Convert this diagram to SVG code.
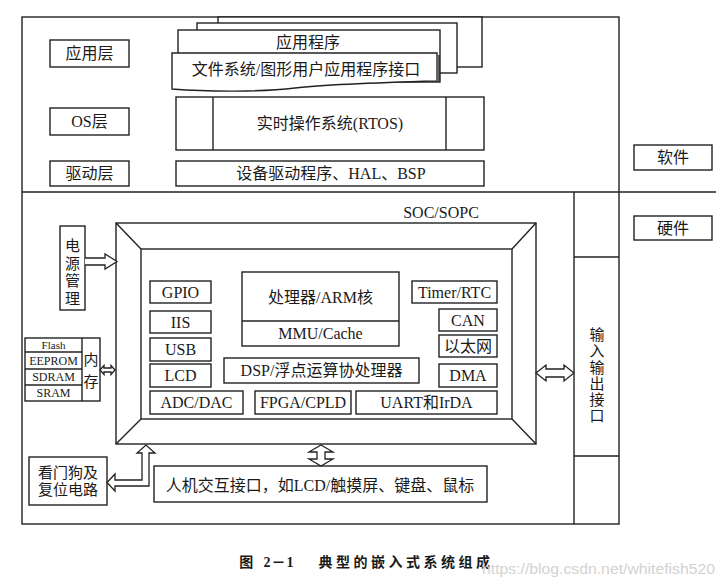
<svg xmlns="http://www.w3.org/2000/svg" width="725" height="587" viewBox="0 0 725 587">
<style>
.b{fill:#fff;stroke:#222;stroke-width:1.4}
.l{fill:none;stroke:#222;stroke-width:1.4}
.a{fill:#fff;stroke:#222;stroke-width:1.3;stroke-linejoin:miter}
text{font-family:"Liberation Serif","Noto Sans CJK SC",serif;fill:#1a1a1a;text-anchor:middle;dominant-baseline:central;font-size:16px}
.s{font-size:15px}
.m{font-size:12px}
.cap{font-weight:bold;font-size:14px;letter-spacing:3.5px}
.wm{font-family:"Liberation Sans",sans-serif;fill:#d2d2d2;font-size:15px;text-anchor:start}
</style>
<rect width="725" height="587" fill="#fff"/>
<g id="frame">
<rect class="l" x="22" y="17" width="597" height="507"/>
<line class="l" x1="22" y1="192" x2="716" y2="192"/>
</g>
<g id="layer-app"><rect class="b" x="50" y="40" width="79" height="27"/><text x="89.5" y="53.5">应用层</text></g>
<g id="layer-os"><rect class="b" x="50" y="108" width="79" height="27"/><text x="89.5" y="121.5">OS层</text></g>
<g id="layer-drv"><rect class="b" x="50" y="161" width="79" height="25"/><text x="89.5" y="173.5">驱动层</text></g>
<g id="app-stack">
<rect class="b" x="218" y="17" width="264" height="50"/>
<rect class="b" x="197" y="23" width="260" height="50"/>
<rect class="b" x="178" y="30" width="262" height="52"/>
<text x="308" y="42">应用程序</text>
<path class="b" d="M172,53 H437 V81 C400,82 330,84 295,88 C262,92 210,92 172,89 Z"/>
<line class="l" x1="439" y1="55" x2="439" y2="82"/>
<text x="306" y="69">文件系统/图形用户应用程序接口</text>
</g>
<g id="rtos">
<rect class="b" x="176" y="97" width="308" height="53"/>
<line class="l" x1="213" y1="97" x2="213" y2="150"/>
<line class="l" x1="446" y1="97" x2="446" y2="150"/>
<text x="330" y="123.5">实时操作系统(RTOS)</text>
</g>
<g id="driver"><rect class="b" x="176" y="161" width="308" height="25"/><text x="331" y="173.5">设备驱动程序、HAL、BSP</text></g>
<g id="software"><rect class="b" x="634" y="145" width="78" height="25"/><text x="673" y="157.5">软件</text></g>
<g id="hardware"><rect class="b" x="634" y="216" width="78" height="24"/><text x="673" y="228">硬件</text></g>
<g id="io">
<line class="l" x1="574" y1="192" x2="574" y2="524"/>
<line class="l" x1="574" y1="257" x2="619" y2="257"/>
<line class="l" x1="574" y1="456" x2="619" y2="456"/>
<text class="s" x="597" y="335">输</text><text class="s" x="597" y="351">入</text><text class="s" x="597" y="367.5">输</text><text class="s" x="597" y="384">出</text><text class="s" x="597" y="400">接</text><text class="s" x="597" y="416">口</text>
</g>
<g id="soc">
<text x="441" y="212">SOC/SOPC</text>
<rect class="l" x="116" y="223" width="420" height="221"/>
<rect class="l" x="141" y="249" width="371" height="170"/>
<line class="l" x1="116" y1="223" x2="141" y2="249"/>
<line class="l" x1="536" y1="223" x2="512" y2="249"/>
<line class="l" x1="536" y1="444" x2="512" y2="419"/>
<line class="l" x1="116" y1="444" x2="141" y2="419"/>
</g>
<g id="gpio"><rect class="b" x="150" y="281" width="61" height="22"/><text x="180.5" y="292">GPIO</text></g>
<g id="iis"><rect class="b" x="150" y="311" width="61" height="22"/><text x="180.5" y="322">IIS</text></g>
<g id="usb"><rect class="b" x="150" y="338" width="61" height="23"/><text x="180.5" y="349.5">USB</text></g>
<g id="lcd"><rect class="b" x="150" y="364" width="61" height="23"/><text x="180.5" y="375.5">LCD</text></g>
<g id="adc"><rect class="b" x="150" y="391" width="93" height="23"/><text x="196.5" y="402.5">ADC/DAC</text></g>
<g id="fpga"><rect class="b" x="255" y="391" width="96" height="23"/><text x="303" y="402.5">FPGA/CPLD</text></g>
<g id="uart"><rect class="b" x="356" y="391" width="141" height="23"/><text x="426.5" y="402.5">UART和IrDA</text></g>
<g id="cpu">
<rect class="b" x="242" y="272" width="157" height="74"/>
<line class="l" x1="242" y1="321" x2="399" y2="321"/>
<text x="320.5" y="297">处理器/ARM核</text>
<text x="320.5" y="333.5">MMU/Cache</text>
</g>
<g id="dsp"><rect class="b" x="224" y="358" width="195" height="25"/><text x="321.5" y="370.5">DSP/浮点运算协处理器</text></g>
<g id="timer"><rect class="b" x="412" y="281" width="85" height="22"/><text x="454.5" y="292">Timer/RTC</text></g>
<g id="can"><rect class="b" x="439" y="309" width="58" height="22"/><text x="468" y="320">CAN</text></g>
<g id="eth"><rect class="b" x="439" y="335" width="58" height="22"/><text x="468" y="346">以太网</text></g>
<g id="dma"><rect class="b" x="439" y="364" width="58" height="23"/><text x="468" y="375.5">DMA</text></g>
<g id="power">
<rect class="b" x="60" y="226" width="25" height="84"/>
<text class="s" x="72.5" y="246">电</text><text class="s" x="72.5" y="263.5">源</text><text class="s" x="72.5" y="281">管</text><text class="s" x="72.5" y="298.5">理</text>
</g>
<g id="memory">
<rect class="b" x="25" y="338" width="75" height="63"/>
<line class="l" x1="82" y1="338" x2="82" y2="401"/>
<line class="l" x1="25" y1="352" x2="82" y2="352"/>
<line class="l" x1="25" y1="369" x2="82" y2="369"/>
<line class="l" x1="25" y1="385" x2="82" y2="385"/>
<text class="m" x="53.5" y="345" style="font-size:11px">Flash</text>
<text class="m" x="53.5" y="360.5">EEPROM</text>
<text class="m" x="53.5" y="377">SDRAM</text>
<text class="m" x="53.5" y="393">SRAM</text>
<text class="s" x="91" y="360">内</text>
<text class="s" x="91" y="382">存</text>
</g>
<g id="watchdog">
<rect class="b" x="29" y="457" width="78" height="48"/>
<text class="s" x="68" y="473">看门狗及</text>
<text class="s" x="68" y="489.5">复位电路</text>
</g>
<g id="hmi"><rect class="b" x="154" y="466" width="333" height="36"/><text x="320" y="485">人机交互接口，如LCD/触摸屏、键盘、鼠标</text></g>
<g id="connectors">
<path class="a" d="M85,258 H105 V254 L117,261.5 L105,269 V265 H85"/>
<path class="a" d="M100,370 L104,365.5 V368 H111 V365.5 L115,370 L111,374.5 V372 H104 V374.5 Z"/>
<path class="a" d="M536,373 L546,365 V369 H564 V365 L574,373 L564,381 V377 H546 V381 Z"/>
<path class="a" d="M321,445 L333,452 H325 V459 H333 L321,466 L309,459 H317 V452 H309 Z"/>
<path class="a" d="M107,482.5 L115,474 V480 H142 V453 H137 L146,445 L155,453 H149 V486 H115 V491 Z"/>
</g>
<g id="caption">
<text class="cap" x="248" y="562">图</text>
<text class="cap" x="279" y="562" style="letter-spacing:1px">2－1</text>
<text class="cap" x="406" y="562">典型的嵌入式系统组成</text>
</g>
<text class="wm" x="482" y="568" textLength="233" lengthAdjust="spacingAndGlyphs" dominant-baseline="central">https://blog.csdn.net/whitefish520</text>
</svg>
